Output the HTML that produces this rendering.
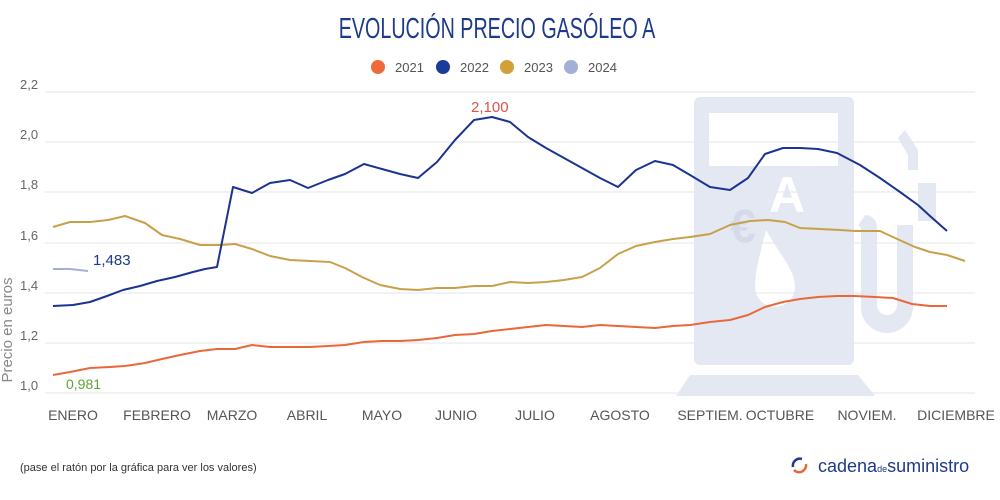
<!DOCTYPE html>
<html><head><meta charset="utf-8"><style>
body{margin:0;background:#fff;}
svg{display:block;font-family:"Liberation Sans",sans-serif;}
</style></head><body>
<svg width="1000" height="500" viewBox="0 0 1000 500" xmlns="http://www.w3.org/2000/svg">
<rect width="1000" height="500" fill="#fff"/>
<!-- watermark pump -->
<g fill="#e4e8f2">
<rect x="694" y="97" width="160" height="268" rx="6"/>
<polygon points="690,375 858,375 875,396 676,396"/>
<path d="M905,130 L918,150 L918,170 L908,170 L908,155 L898,138 Z"/>
<rect x="918" y="183" width="18" height="38"/>
<path d="M865,215 a12,12 0 0 1 12,12 v78 a10,10 0 0 0 20,0 v-80 h16 v82 a26,26 0 0 1 -52,0 v-78 a3,3 0 0 0 -3,-3 z"/>
</g>
<rect x="709" y="113" width="129" height="53" fill="#fff"/>
<text x="787" y="212" font-size="50" fill="#fff" text-anchor="middle" font-weight="bold">A</text>
<text x="743" y="242" font-size="46" fill="#d4dae9" text-anchor="middle" font-weight="bold">€</text>
<path d="M766,230 C780,255 795,270 795,287 a20,20 0 0 1 -40,0 C755,270 760,255 766,230 Z" fill="#fff"/>
<!-- grid -->
<g stroke="#e6e6e6" stroke-width="1">
<line x1="45" y1="92" x2="975" y2="92"/><line x1="45" y1="142" x2="975" y2="142"/>
<line x1="45" y1="192" x2="975" y2="192"/><line x1="45" y1="243" x2="975" y2="243"/>
<line x1="45" y1="293" x2="975" y2="293"/><line x1="45" y1="343" x2="975" y2="343"/>
<line x1="45" y1="393" x2="975" y2="393"/>
</g>
<g font-size="13" fill="#666">
<text x="20" y="89">2,2</text><text x="20" y="139">2,0</text><text x="20" y="189">1,8</text>
<text x="20" y="240">1,6</text><text x="20" y="290">1,4</text><text x="20" y="340">1,2</text><text x="20" y="390">1,0</text>
</g>
<text transform="translate(12,330) rotate(-90)" font-size="15" fill="#888" text-anchor="middle">Precio en euros</text>
<!-- title -->
<text transform="translate(497,38) scale(0.68,1)" font-size="29" fill="#1e3a8a" text-anchor="middle">EVOLUCIÓN PRECIO GASÓLEO A</text>
<!-- legend -->
<g font-size="13" fill="#555">
<circle cx="378" cy="67" r="7" fill="#ee6a3a"/><text x="395" y="72">2021</text>
<circle cx="443" cy="67" r="7" fill="#1b3b9a"/><text x="460" y="72">2022</text>
<circle cx="507" cy="67" r="7" fill="#d39f38"/><text x="524" y="72">2023</text>
<circle cx="571" cy="67" r="7" fill="#a2b0d8"/><text x="588" y="72">2024</text>
</g>
<!-- series -->
<g fill="none" stroke-width="2" stroke-linejoin="round">
<polyline stroke="#e9683a" points="53,375 70,372 90,368 110,367 125,366 145,363 162,359 180,355 200,351 217,349 235,349 252,345 270,347 290,347 310,347 328,346 345,345 364,342 382,341 400,341 418,340 437,338 455,335 474,334 492,331 510,329 528,327 546,325 564,326 582,327 600,325 618,326 636,327 655,328 673,326 690,325 710,322 730,320 748,315 765,307 783,302 800,299 818,297 837,296 855,296 875,297 893,298 912,304 930,306 947,306"/>
<polyline stroke="#c9a04a" points="53,227 70,222 90,222 108,220 125,216 145,223 162,235 180,239 200,245 220,245 235,244 252,249 270,256 290,260 310,261 330,262 345,268 362,277 380,285 400,289 418,290 437,288 455,288 474,286 492,286 510,282 528,283 546,282 564,280 582,277 600,268 618,254 636,246 655,242 673,239 690,237 710,234 730,225 750,221 768,220 785,222 800,228 820,229 840,230 855,231 880,231 895,238 915,247 930,252 947,255 965,261"/>
<polyline stroke="#1b3490" points="53,306 73,305 90,302 107,296 123,290 140,286 157,281 175,277 193,272 205,269 217,267 233,187 252,193 270,183 290,180 308,188 328,180 345,174 364,164 382,169 400,174 418,178 437,162 455,140 474,120 492,117 510,122 528,137 546,148 564,158 582,168 600,178 618,187 636,170 655,161 673,165 690,175 710,187 730,190 748,178 765,154 783,148 800,148 818,149 837,153 860,165 880,178 900,192 918,205 930,216 947,231"/>
<polyline stroke="#a2b0d8" points="53,269 70,269 88,271"/>
</g>
<text x="93" y="265" font-size="15" fill="#1e3a8a">1,483</text>
<text x="471" y="112" font-size="15" fill="#d9534f">2,100</text>
<text x="66" y="389" font-size="14" fill="#5aa636">0,981</text>
<!-- x labels -->
<g font-size="14" fill="#555" text-anchor="middle">
<text x="73" y="420">ENERO</text><text x="157" y="420">FEBRERO</text><text x="232" y="420">MARZO</text>
<text x="307" y="420">ABRIL</text><text x="382" y="420">MAYO</text><text x="456" y="420">JUNIO</text>
<text x="535" y="420">JULIO</text><text x="620" y="420">AGOSTO</text><text x="710" y="420">SEPTIEM.</text>
<text x="780" y="420">OCTUBRE</text><text x="867" y="420">NOVIEM.</text><text x="956" y="420">DICIEMBRE</text>
</g>
<text x="20" y="471" font-size="11" fill="#333">(pase el ratón por la gráfica para ver los valores)</text>
<!-- logo -->
<path d="M802,459 a7,7 0 0 0 -9,8" fill="none" stroke="#1e3a8a" stroke-width="2.5"/>
<path d="M794,470 a7,7 0 0 0 12,-6" fill="none" stroke="#e9683a" stroke-width="2.5"/>
<text x="818" y="472" font-size="18" fill="#1e3a8a">cadena<tspan font-size="9">de</tspan>suministro</text>
</svg>
</body></html>
